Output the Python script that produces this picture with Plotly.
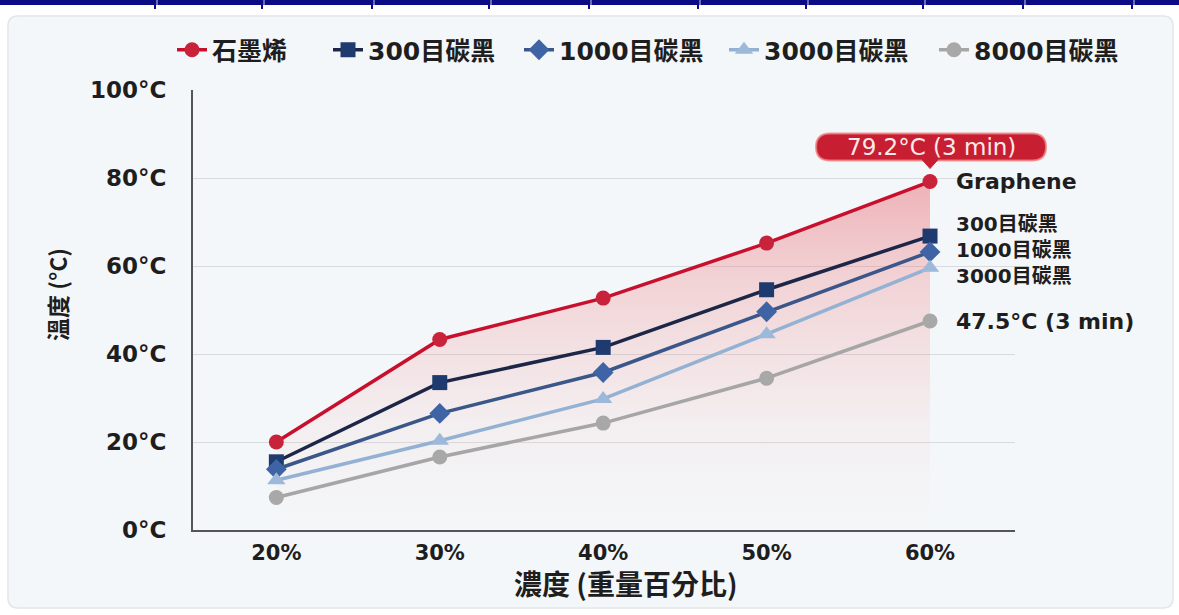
import plotly.graph_objects as go

# Concentration (wt%) and temperature after 3 min heating (°C)
concentration = [20, 30, 40, 50, 60]
graphene = [20.0, 43.3, 52.7, 65.2, 79.2]
cb_300 = [15.5, 33.5, 41.5, 54.6, 66.8]
cb_1000 = [13.8, 26.5, 35.8, 49.6, 63.2]
cb_3000 = [11.3, 20.3, 29.8, 44.5, 59.6]
cb_8000 = [7.4, 16.6, 24.3, 34.5, 47.5]

series_names = ["石墨烯", "300目碳黑", "1000目碳黑", "3000目碳黑", "8000目碳黑"]
y_ticks = [0, 20, 40, 60, 80, 100]
y_tick_text = ["0°C", "20°C", "40°C", "60°C", "80°C", "100°C"]
x_ticks = [20, 30, 40, 50, 60]
x_tick_text = ["20%", "30%", "40%", "50%", "60%"]

FONT = "'DejaVu Sans', 'Noto Sans CJK TC', sans-serif"
CJK = "'Noto Sans CJK TC', 'DejaVu Sans', sans-serif"
RED = "#c81e32"
INK = "#1e1e1e"

X_RANGE = [14.9, 65.2]
L, R, T, B = 193, 1015, 90, 530
W, H = R - L, B - T
px = lambda v: (v - L) / W
py = lambda v: (B - v) / H

fig = go.Figure()

# soft red area under the graphene curve
fig.add_trace(go.Scatter(
    x=concentration, y=graphene, mode="lines", fill="tozeroy",
    line=dict(width=0, color="rgba(0,0,0,0)"),
    fillgradient=dict(type="vertical", start=0, stop=80,
                      colorscale=[[0, "rgba(240,130,130,0.0)"],
                                  [0.3, "rgba(238,120,120,0.07)"],
                                  [0.7, "rgba(235,105,110,0.25)"],
                                  [1, "rgba(228,80,90,0.42)"]]),
    showlegend=False, hoverinfo="skip"))

styles = [
    dict(line="#c8102e", marker="#c8233a", symbol="circle", size=15, lw=111),
    dict(line="#1c2748", marker="#1f3a6e", symbol="square", size=15, lw=146),
    dict(line="#3b5688", marker="#3f64a6", symbol="diamond", size=16, lw=160),
    dict(line="#93b1d3", marker="#9db9da", symbol="triangle-up", size=16, lw=165),
    dict(line="#a6a6a6", marker="#a8a8a8", symbol="circle", size=15, lw=160),
]
data = [graphene, cb_300, cb_1000, cb_3000, cb_8000]

for name, vals, st in zip(series_names, data, styles):
    fig.add_trace(go.Scatter(
        x=concentration, y=vals, name=name, mode="lines+markers",
        line=dict(color=st["line"], width=3.5),
        marker=dict(color=st["marker"], symbol=st["symbol"], size=st["size"]),
        legendwidth=st["lw"],
    ))

# end-of-line labels
label_font = dict(family=FONT, size=22, color=INK)
fig.add_annotation(x=concentration[-1], y=graphene[-1], text="<b>Graphene</b>",
                   xanchor="left", yanchor="middle", xshift=24, showarrow=False,
                   font=label_font)
fig.add_annotation(x=concentration[-1], y=cb_1000[-1],
                   text="<b>300目碳黑<br>1000目碳黑<br>3000目碳黑</b>",
                   xanchor="left", yanchor="middle", align="left", xshift=24, yshift=2,
                   showarrow=False, font=dict(family=FONT, size=20, color=INK))
fig.add_annotation(x=concentration[-1], y=cb_8000[-1],
                   text=f"<b>{cb_8000[-1]}°C (3 min)</b>",
                   xanchor="left", yanchor="middle", xshift=24, showarrow=False,
                   font=label_font)

# callout above the graphene end point (anchored in paper units so it is not clipped)
x_end = (concentration[-1] - X_RANGE[0]) / (X_RANGE[1] - X_RANGE[0])
y_end = graphene[-1] / 100
fig.add_shape(type="path", xref="paper", yref="paper", xsizemode="pixel", ysizemode="pixel",
              xanchor=x_end, yanchor=y_end,
              path=("M -100,21 L 102,21 Q 116,21 116,34.5 Q 116,48 102,48 "
                    "L -100,48 Q -114,48 -114,34.5 Q -114,21 -100,21 Z"),
              fillcolor=RED, line=dict(color="rgba(240,130,130,0.8)", width=2), layer="above")
fig.add_shape(type="path", xref="paper", yref="paper", xsizemode="pixel", ysizemode="pixel",
              xanchor=x_end, yanchor=y_end,
              path="M -8,22 L 8,22 L 0,13 Z",
              fillcolor=RED, line=dict(color=RED, width=1), layer="above")
fig.add_annotation(x=x_end, y=y_end, xref="paper", yref="paper",
                   text=f"{graphene[-1]}°C (3 min)", showarrow=False,
                   xanchor="center", yanchor="middle", yshift=35, xshift=1,
                   font=dict(family=FONT, size=23, color="#fbeaea"))

# axis titles
fig.add_annotation(x=px(626), y=py(583), xref="paper", yref="paper",
                   text="<b>濃度 (重量百分比)</b>", showarrow=False,
                   xanchor="center", yanchor="middle",
                   font=dict(family=CJK, size=28, color=INK))
fig.add_annotation(x=px(57), y=py(295), xref="paper", yref="paper",
                   text="<b>溫度 (°C)</b>", showarrow=False, textangle=-90,
                   xanchor="center", yanchor="middle",
                   font=dict(family=CJK, size=23, color=INK))

# card background and top band
cx0, cx1, cy0, cy1 = px(8), px(1173), py(608), py(16)
rx, ry = 10 / W, 10 / H
card = (f"M {cx0+rx},{cy1} L {cx1-rx},{cy1} Q {cx1},{cy1} {cx1},{cy1-ry} "
        f"L {cx1},{cy0+ry} Q {cx1},{cy0} {cx1-rx},{cy0} L {cx0+rx},{cy0} "
        f"Q {cx0},{cy0} {cx0},{cy0+ry} L {cx0},{cy1-ry} Q {cx0},{cy1} {cx0+rx},{cy1} Z")
fig.add_shape(type="path", xref="paper", yref="paper", path=card,
              fillcolor="#f4f7f9", line=dict(color="#e2e6ea", width=1.5), layer="below")
fig.add_shape(type="rect", xref="paper", yref="paper", x0=px(0), x1=px(1179),
              y0=py(5), y1=py(0), fillcolor="#0b0b86", line=dict(width=0), layer="below")
for sx in [155, 262, 372, 489, 589, 698, 806, 923, 1023, 1132]:
    fig.add_shape(type="line", xref="paper", yref="paper", x0=px(sx), x1=px(sx),
                  y0=py(9), y1=py(0), line=dict(color="#0b0b86", width=2), layer="below")
    fig.add_shape(type="line", xref="paper", yref="paper", x0=px(sx + 2), x1=px(sx + 2),
                  y0=py(5), y1=py(0), line=dict(color="#c8cce8", width=1), layer="below")

fig.update_layout(
    width=1179, height=615,
    margin=dict(l=L, r=1179 - R, t=T, b=615 - B),
    paper_bgcolor="white", plot_bgcolor="rgba(0,0,0,0)",
    font=dict(family=FONT, color=INK),
    legend=dict(orientation="h", x=px(172), y=py(50), xanchor="left", yanchor="middle",
                font=dict(family=FONT, size=25, color=INK, weight="bold"),
                bgcolor="rgba(0,0,0,0)", itemwidth=30),
    showlegend=True,
)
fig.update_xaxes(range=X_RANGE, tickvals=x_ticks, ticktext=x_tick_text,
                 showgrid=False, zeroline=False, showline=True, linecolor="#555555", linewidth=2,
                 ticks="", ticklabelstandoff=3,
                 tickfont=dict(family=FONT, size=21, color=INK, weight="bold"))
fig.update_yaxes(range=[0, 100], tickvals=y_ticks, ticktext=y_tick_text,
                 showgrid=True, gridcolor="#d9dcdf", gridwidth=1, zeroline=False,
                 showline=True, linecolor="#555555", linewidth=2, ticks="",
                 ticklabelstandoff=20,
                 tickfont=dict(family=FONT, size=23, color=INK, weight="bold"))

fig.write_html("out.html")
